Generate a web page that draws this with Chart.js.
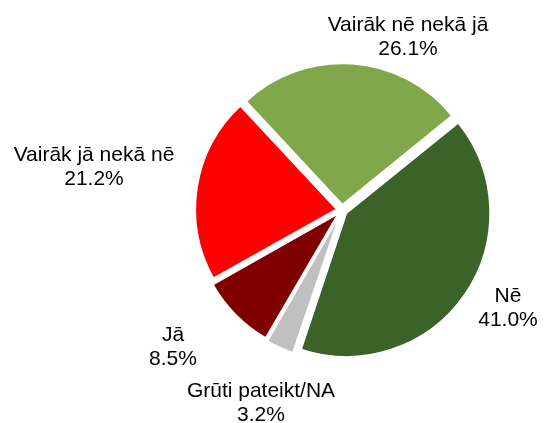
<!DOCTYPE html>
<html>
<head>
<meta charset="utf-8">
<script src="https://cdn.jsdelivr.net/npm/chart.js@4/dist/chart.umd.min.js"></script>
<style>
  html, body { margin: 0; padding: 0; background: #fff; }
  #wrap { width: 544px; height: 423px; }
</style>
</head>
<body>
<div id="wrap"><canvas id="pieChart" width="544" height="423"></canvas></div>
<script>
// data
const categories = ['Vairāk nē nekā jā', 'Nē', 'Grūti pateikt/NA', 'Jā', 'Vairāk jā nekā nē'];
const shares = [26.1, 41.0, 3.2, 8.5, 21.2];
const sliceColors = ['#80A84A', '#3B6229', '#C0C0C0', '#800000', '#FF0000'];

// where Excel put each label (centre x, first-line baseline y)
const labelPos = [
    [408, 31],
    [508, 302],
    [261, 397],
    [173, 341],
    [94, 161]
];

const sliceLabels = {
    id: 'sliceLabels',
    afterDraw(chart) {
        const c = chart.ctx;
        c.save();
        c.font = '21px "Liberation Sans", Arial, sans-serif';
        c.fillStyle = '#000';
        c.textAlign = 'center';
        c.textBaseline = 'alphabetic';
        chart.data.labels.forEach((name, i) => {
            const [x, y] = labelPos[i];
            const pct = chart.data.datasets[0].data[i].toFixed(1) + '%';
            c.fillText(name, x, y);
            c.fillText(pct, x, y + 24);
        });
        c.restore();
    }
};

const ctx = document.getElementById('pieChart').getContext('2d');
const pie_chart = new Chart(ctx, {
    type: 'pie',
    data: {
        labels: categories,
        datasets: [{
            data: shares,
            backgroundColor: sliceColors,
            borderColor: '#ffffff',
            borderWidth: 1.5,
            offset: 22 // chart.js draws offset/4, so ~5.5px explode
        }]
    },
    options: {
        responsive: false,
        animation: false,
        rotation: -43,
        radius: 141,
        layout: {
            padding: { left: 180, right: 40, top: 50, bottom: 53 }
        },
        plugins: {
            legend: { display: false },
            tooltip: { enabled: false }
        }
    },
    plugins: [sliceLabels]
});
</script>
</body>
</html>
